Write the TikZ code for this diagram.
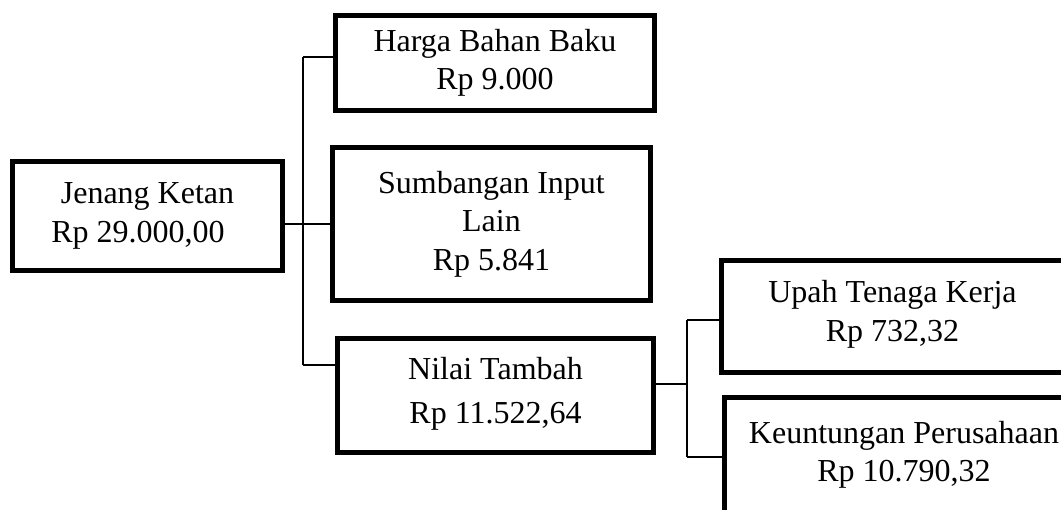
\documentclass[tikz,border=0pt]{standalone}
\usepackage{fontspec}
\setmainfont{Liberation Serif}
\begin{document}
\begin{tikzpicture}[x=1pt,y=-1pt,
  box/.style={draw=black, line width=5pt, fill=white, align=center, inner sep=0pt,
    font=\fontsize{32}{38.5}\selectfont},
  link/.style={draw=black, line width=2pt}]
\useasboundingbox (0,0) rectangle (1061,510);
\clip (0,0) rectangle (1061,510);
\node[box, minimum width=270pt, minimum height=109pt] (jenang) at (147.5,216)
  {Jenang Ketan\\Rp 29.000,00\hspace*{19pt}};
\node[box, minimum width=319pt, minimum height=95pt] (harga) at (495,63)
  {Harga Bahan Baku\\Rp 9.000};
\node[box, minimum width=318pt, minimum height=153pt] (sumb) at (491.5,224)
  {Sumbangan Input\\Lain\\Rp 5.841};
\node[box, minimum width=316pt, minimum height=114pt,
  font=\fontsize{32}{44}\selectfont] (nilai) at (495.5,395.5)
  {Nilai Tambah\\Rp 11.522,64\\[-33pt]\mbox{}};
\node[box, minimum width=343pt, minimum height=112pt] (upah) at (892.5,316.5)
  {Upah Tenaga Kerja\\Rp 732,32\\[-27.5pt]\mbox{}};
\node[box, minimum width=359pt, minimum height=115pt] (keun) at (904,455)
  {Keuntungan Perusahaan\\Rp 10.790,32};
% connectors
\coordinate (s1) at (303,57);
\coordinate (s2) at (303,365);
\draw[link] (s1) -- (s2);
\draw[link] (s1) -- (s1 -| harga.west);
\draw[link] (s2) -- (s2 -| nilai.west);
\draw[link] (jenang.east |- sumb.west) -- (sumb.west);
\coordinate (t0) at (687,384);
\coordinate (t1) at (687,320);
\coordinate (t2) at (687,457);
\draw[link] (t0 -| nilai.east) -- (t0);
\draw[link] (t1) -- (t2);
\draw[link] (t1) -- (t1 -| upah.west);
\draw[link] (t2) -- (t2 -| keun.west);
\end{tikzpicture}
\end{document}
